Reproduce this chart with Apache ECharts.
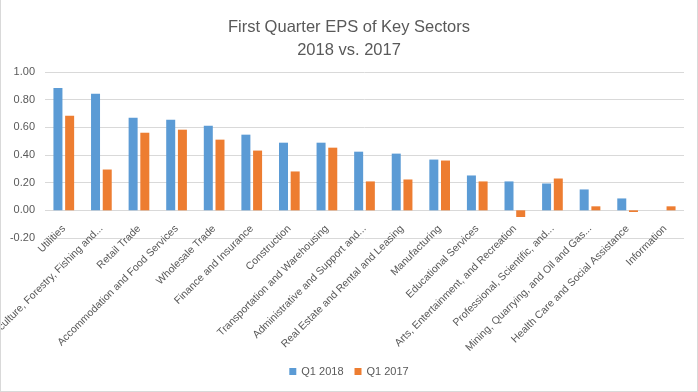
<!DOCTYPE html>
<html>
<head>
<meta charset="utf-8">
<script src="https://cdn.jsdelivr.net/npm/echarts@6/dist/echarts.min.js"></script>
<style>
html,body{margin:0;padding:0;background:#fff;}
#wrap{position:relative;width:698px;height:392px;}
#c{width:698px;height:392px;}
#frame{position:absolute;left:0;top:0;width:698px;height:392px;box-sizing:border-box;border-left:1px solid #D9D9D9;border-right:1px solid #D9D9D9;border-bottom:1px solid #D9D9D9;pointer-events:none;}
</style>
</head>
<body>
<div id="wrap"><div id="c"></div><div id="frame"></div></div>
<script>
var categories = [
  "Utilities",
  "Agriculture, Forestry, Fishing and...",
  "Retail Trade",
  "Accommodation and Food Services",
  "Wholesale Trade",
  "Finance and Insurance",
  "Construction",
  "Transportation and Warehousing",
  "Administrative and Support and...",
  "Real Estate and Rental and Leasing",
  "Manufacturing",
  "Educational Services",
  "Arts, Entertainment, and Recreation",
  "Professional, Scientific, and...",
  "Mining, Quarrying, and Oil and Gas...",
  "Health Care and Social Assistance",
  "Information"
];
var q1_2018 = [0.885, 0.842, 0.669, 0.655, 0.612, 0.547, 0.489, 0.489, 0.424, 0.410, 0.367, 0.252, 0.209, 0.194, 0.151, 0.086, 0.0];
var q1_2017 = [0.683, 0.295, 0.561, 0.583, 0.511, 0.432, 0.281, 0.453, 0.209, 0.223, 0.360, 0.209, -0.048, 0.230, 0.029, -0.012, 0.029];
var seriesNames = ["Q1 2018", "Q1 2017"];
var titleLines = ["First Quarter EPS of Key Sectors", "2018 vs. 2017"];

var font = "'Liberation Sans', Arial, sans-serif";
var chart = echarts.init(document.getElementById('c'));
chart.setOption({
  animation: false,
  textStyle: {fontFamily: font},
  title: [
    {text: titleLines[0], left: 'center', top: 14, textStyle: {fontSize: 16.5, fontWeight: 'normal', color: '#595959', fontFamily: font}},
    {text: titleLines[1], left: 'center', top: 37, textStyle: {fontSize: 16.5, fontWeight: 'normal', color: '#595959', fontFamily: font}}
  ],
  legend: {
    bottom: 10, left: 'center',
    itemWidth: 7, itemHeight: 7, itemGap: 11,
    icon: 'rect',
    textStyle: {fontSize: 11, color: '#595959', fontFamily: font},
    data: seriesNames
  },
  grid: {left: 45, right: 14, top: 72, bottom: 154, containLabel: false, outerBoundsMode: 'none'},
  xAxis: {
    type: 'category',
    data: categories,
    axisLine: {show: false, onZero: false},
    axisTick: {show: false},
    axisLabel: {rotate: 45, interval: 0, margin: -11, fontSize: 10.5, color: '#595959', fontFamily: font}
  },
  yAxis: {
    type: 'value',
    min: -0.2, max: 1.0, interval: 0.2,
    axisLine: {show: false},
    axisTick: {show: false},
    axisLabel: {formatter: function(v){return v.toFixed(2);}, fontSize: 11, color: '#595959', margin: 10, fontFamily: font},
    splitLine: {lineStyle: {color: '#D9D9D9', width: 1}}
  },
  series: [
    {name: seriesNames[0], type: 'bar', data: q1_2018, barWidth: 9, barGap: '30%', itemStyle: {color: '#5B9BD5'}},
    {name: seriesNames[1], type: 'bar', data: q1_2017, barWidth: 9, barGap: '30%', itemStyle: {color: '#ED7D31'}}
  ]
});
</script>
</body>
</html>
